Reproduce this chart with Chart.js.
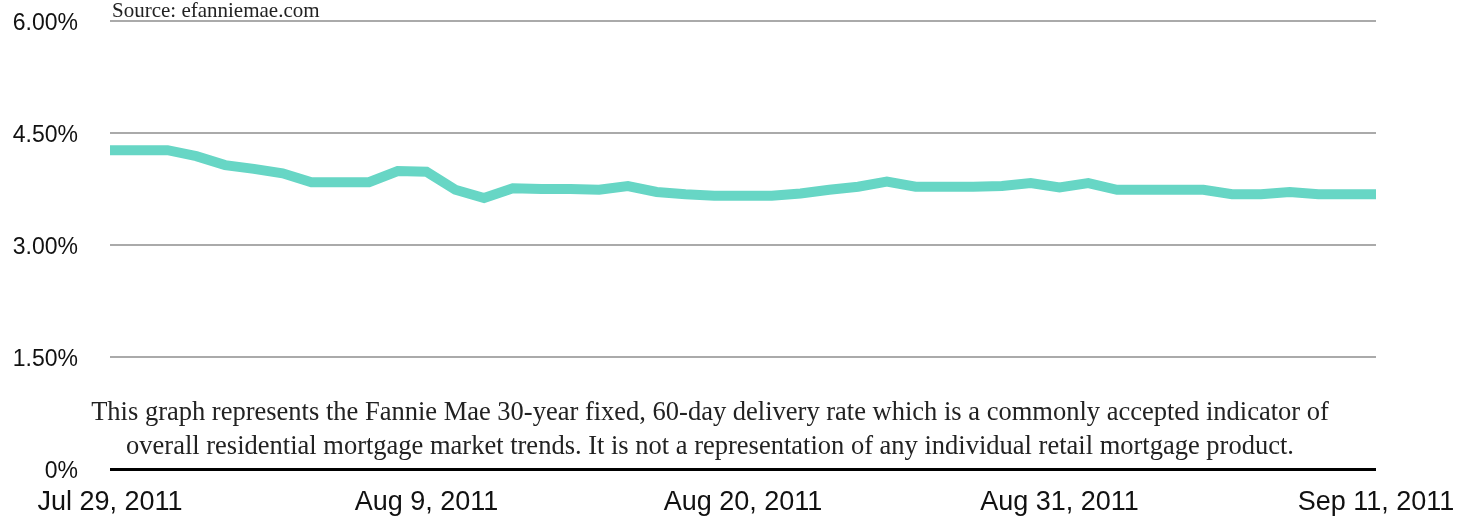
<!DOCTYPE html>
<html>
<head>
<meta charset="utf-8">
<script src="https://cdn.jsdelivr.net/npm/chart.js@4.4.1/dist/chart.umd.min.js"></script>
<style>
  html, body { margin: 0; padding: 0; background: #fff; }
  #wrap { width: 1474px; height: 520px; position: relative; }
</style>
</head>
<body>
<div id="wrap"><canvas id="grafico"></canvas></div>
<script>
// days since Jul 29, 2011 (one point per day)
const rates = [
  4.27, 4.27, 4.27, 4.19, 4.07, 4.02, 3.96, 3.84, 3.84, 3.84,
  3.99, 3.98, 3.74, 3.63, 3.76, 3.75, 3.75, 3.74, 3.79, 3.71,
  3.68, 3.66, 3.66, 3.66, 3.69, 3.74, 3.78, 3.85, 3.78, 3.78,
  3.78, 3.79, 3.83, 3.77, 3.83, 3.74, 3.74, 3.74, 3.74, 3.68,
  3.68, 3.71, 3.68, 3.68, 3.68
]
const xTickLabels = ['Jul 29, 2011', 'Aug 9, 2011', 'Aug 20, 2011', 'Aug 31, 2011', 'Sep 11, 2011']
const yTickLabels = ['0%', '1.50%', '3.00%', '4.50%', '6.00%']
const sourceText = 'Source: efanniemae.com'
const caption = [
  'This graph represents the Fannie Mae 30-year fixed, 60-day delivery rate which is a commonly accepted indicator of',
  'overall residential mortgage market trends. It is not a representation of any individual retail mortgage product.'
]

const pontos = rates.map((r, i) => ({ x: i, y: r }))

// textos extras: fonte e legenda
const textos = {
  id: 'textos',
  afterDraw(chart) {
    const { ctx, chartArea } = chart
    ctx.save()
    ctx.fillStyle = '#222'
    ctx.textBaseline = 'alphabetic'
    ctx.textAlign = 'left'
    ctx.font = '21px "Liberation Serif", serif'
    ctx.fillText(sourceText, chartArea.left + 2, 17)
    ctx.textAlign = 'center'
    ctx.font = '26.5px "Liberation Serif", serif'
    ctx.fillText(caption[0], 710, 420)
    ctx.fillText(caption[1], 710, 454)
    ctx.restore()
  }
}

new Chart(document.getElementById('grafico'), {
  type: 'line',
  data: {
    datasets: [{
      data: pontos,
      borderColor: '#67d6c5',
      borderWidth: 10,
      pointRadius: 0,
      tension: 0,
      borderJoinStyle: 'miter'
    }]
  },
  options: {
    responsive: true,
    maintainAspectRatio: false,
    animation: false,
    layout: { padding: { top: 21, right: 98, left: 0, bottom: 0 } },
    plugins: { legend: { display: false }, tooltip: { enabled: false } },
    scales: {
      x: {
        type: 'linear',
        min: 0,
        max: 44,
        afterBuildTicks: s => { s.ticks = xTickLabels.map((_, i) => ({ value: i * 11 })) },
        afterFit: s => { s.height = 51; s.paddingTop = 0; s.paddingBottom = 0 },
        grid: { display: false, drawTicks: false },
        border: { display: false },
        ticks: {
          padding: 17,
          color: '#111',
          maxRotation: 0,
          autoSkip: false,
          font: { family: '"Liberation Sans", Arial, sans-serif', size: 27 },
          callback: (v, i) => xTickLabels[i]
        }
      },
      y: {
        min: 0,
        max: 6,
        afterBuildTicks: s => { s.ticks = yTickLabels.map((_, i) => ({ value: i * 1.5 })) },
        afterFit: s => { s.width = 110; s.paddingTop = 0; s.paddingBottom = 0 },
        grid: {
          drawTicks: false,
          color: c => c.tick && c.tick.value === 0 ? '#000' : '#aaa',
          lineWidth: c => c.tick && c.tick.value === 0 ? 3 : 2
        },
        border: { display: false },
        ticks: {
          padding: 32,
          labelOffset: 3,
          color: '#111',
          font: { family: '"Liberation Sans", Arial, sans-serif', size: 23 },
          callback: (v, i) => yTickLabels[i]
        }
      }
    }
  },
  plugins: [textos]
})
</script>
</body>
</html>
